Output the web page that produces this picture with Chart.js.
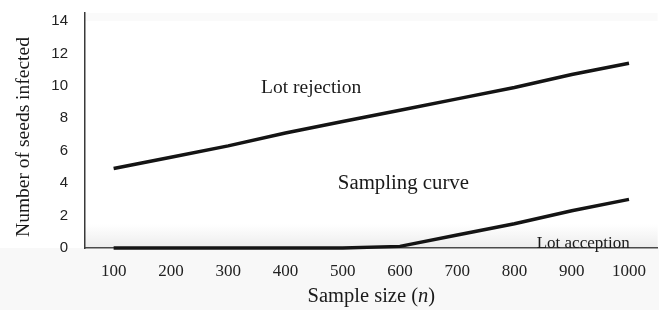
<!DOCTYPE html>
<html>
<head>
<meta charset="utf-8">
<script src="https://cdn.jsdelivr.net/npm/chart.js@4"></script>
<style>
  body { margin: 0; background: #ffffff; }
  #wrap { width: 659px; height: 310px; }
</style>
</head>
<body>
<div id="wrap"><canvas id="seedChart"></canvas></div>
<script>
// sample sizes on the x axis
var sampleSizes = ["100", "200", "300", "400", "500", "600", "700", "800", "900", "1000"];
// upper line (lot rejection limit)
var rejectionLine = [4.9, 5.6, 6.3, 7.1, 7.8, 8.5, 9.2, 9.9, 10.7, 11.4];
// lower line (sampling curve)
var samplingCurve = [0, 0, 0, 0, 0, 0.1, 0.8, 1.5, 2.3, 3.0];
var yTicks = [0, 2, 4, 6, 8, 10, 12, 14];

var serif = "'Liberation Serif', 'Times New Roman', serif";

// labels inside the plot: [text, x index, y value, font size]
var notes = [
  ["Lot rejection", 3.45, 9.9, 19.5],
  ["Sampling curve", 5.06, 4.0, 20.8],
  ["Lot acception", 8.2, 0.3, 17]
];

var backdrop = {
  id: "backdrop",
  beforeDraw: function (chart) {
    var ctx = chart.ctx;
    var a = chart.chartArea;
    ctx.save();
    ctx.fillStyle = "#ffffff";
    ctx.fillRect(0, 0, chart.width, chart.height);
    ctx.fillStyle = "#f8f8f8";
    ctx.fillRect(0, a.bottom, chart.width, chart.height - a.bottom);
    ctx.fillStyle = "#fafafa";
    ctx.fillRect(a.left, a.top, a.right - a.left, 8);
    var g = ctx.createLinearGradient(0, a.bottom - 24, 0, a.bottom);
    g.addColorStop(0, "rgba(238,238,238,0)");
    g.addColorStop(1, "rgba(236,236,236,1)");
    ctx.fillStyle = g;
    ctx.fillRect(a.left, a.bottom - 24, a.right - a.left, 24);
    ctx.restore();
  },
  afterDatasetsDraw: function (chart) {
    var ctx = chart.ctx;
    var x = chart.scales.x;
    var y = chart.scales.y;
    ctx.save();
    ctx.fillStyle = "#1a1a1a";
    ctx.textAlign = "center";
    ctx.textBaseline = "middle";
    notes.forEach(function (n) {
      ctx.font = n[3] + "px " + serif;
      ctx.fillText(n[0], x.getPixelForValue(n[1]), y.getPixelForValue(n[2]));
    });

    // y axis title
    ctx.save();
    ctx.translate(24, 137);
    ctx.rotate(-Math.PI / 2);
    ctx.font = "19.5px " + serif;
    ctx.fillText("Number of seeds infected", 0, 0);
    ctx.restore();

    // x axis title with italic n
    var a = chart.chartArea;
    var parts = [["Sample size (", ""], ["n", "italic "], [")", ""]];
    var total = 0;
    parts.forEach(function (p) {
      ctx.font = p[1] + "20.5px " + serif;
      p.push(ctx.measureText(p[0]).width);
      total += p[2];
    });
    var cx = (a.left + a.right) / 2 - total / 2;
    ctx.textAlign = "left";
    parts.forEach(function (p) {
      ctx.font = p[1] + "20.5px " + serif;
      ctx.fillText(p[0], cx, 297);
      cx += p[2];
    });
    ctx.restore();
  }
};

new Chart(document.getElementById("seedChart"), {
  type: "line",
  data: {
    labels: sampleSizes,
    datasets: [
      {
        label: "Lot rejection",
        data: rejectionLine,
        borderColor: "#141414",
        borderWidth: 3.5,
        pointRadius: 0,
        tension: 0,
      },
      {
        label: "Sampling curve",
        data: samplingCurve,
        borderColor: "#141414",
        borderWidth: 3.5,
        pointRadius: 0,
        tension: 0,
        clip: false,
      },
    ],
  },
  options: {
    responsive: true,
    maintainAspectRatio: false,
    animation: false,
    layout: { padding: { top: 13, left: 0, right: 0, bottom: 0 } },
    plugins: {
      legend: { display: false },
      tooltip: { enabled: false },
    },
    scales: {
      x: {
        offset: true,
        grid: { display: false, drawTicks: false },
        border: { color: "#4a4a4a", width: 1.5 },
        ticks: {
          color: "#222",
          padding: 13,
          maxRotation: 0,
          font: { family: serif, size: 17 },
        },
        afterFit: function (scale) {
          scale.height = 62;
        },
      },
      y: {
        min: 0,
        max: 14.5,
        grid: { display: false, drawTicks: false },
        border: { color: "#3a3a3a", width: 1.5 },
        afterBuildTicks: function (scale) {
          scale.ticks = yTicks.map(function (v) {
            return { value: v };
          });
        },
        ticks: {
          color: "#222",
          padding: 17,
          font: { family: "'Liberation Sans', Arial, sans-serif", size: 15 },
        },
        afterFit: function (scale) {
          scale.width = 85;
          scale.paddingTop = 0;
          scale.paddingBottom = 0;
        },
      },
    },
  },
  plugins: [backdrop],
});
</script>
</body>
</html>
